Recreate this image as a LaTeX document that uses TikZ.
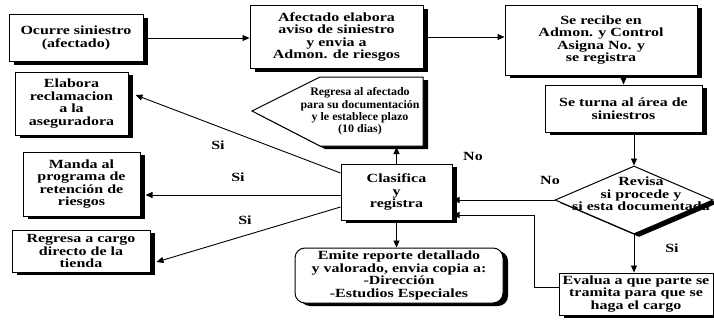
\documentclass[tikz,border=0pt]{standalone}
\usepackage{fontspec}
\setmainfont{Liberation Serif}[FakeStretch=1.28]
\newfontfamily\narrowserif{Liberation Serif}[FakeStretch=1.04]
\usetikzlibrary{arrows.meta,shapes.geometric,shadows}
\begin{document}
\begin{tikzpicture}[x=1pt,y=-1pt,
  txt/.style={font=\fontsize{12.5}{12.5}\selectfont\bfseries, align=center, inner sep=1pt},
  smalltxt/.style={font=\narrowserif\fontsize{11.5}{12.3}\selectfont\bfseries, align=center, inner sep=1pt},
  box/.style={txt, draw, line width=1pt, fill=white,
    drop shadow={shadow xshift=5pt,shadow yshift=-3pt,fill=black,opacity=1}},
  shp/.style={draw, line width=1pt, fill=white,
    drop shadow={shadow xshift=5pt,shadow yshift=-3pt,fill=black,opacity=1}},
  arr/.style={line width=0.9pt, -{Triangle[length=7pt,width=6pt]}},
  lab/.style={txt}]
\useasboundingbox (0,0) rectangle (714,324);

% top row
\node[box, minimum width=134pt, minimum height=47pt] (b1) at (76,38) {Ocurre siniestro\\(afectado)};
\node[box, minimum width=173pt, minimum height=63pt] (b2) at (336.5,37) {Afectado elabora\\aviso de siniestro\\y envia a\\Admon. de riesgos};
\node[box, minimum width=192pt, minimum height=70pt] (b3) at (601,40) {Se recibe en\\Admon. y Control\\Asigna No. y\\se registra};
\node[box, minimum width=157pt, minimum height=47pt] (b4) at (623.5,108.5) {Se turna al área de\\siniestros};

% diamond
\node[shp, diamond, minimum width=158pt, minimum height=68pt, inner sep=0pt] (dia) at (634,200) {};
\node[txt] (diat) at (641,194) {Revisa\\si procede y\\si esta documentada};

% pentagon
\draw[shp] (252,111) -- (320,77) -- (423,77) -- (423,146) -- (320,146) -- cycle;
\node[smalltxt] (pent) at (360,111.5) {Regresa al afectado\\para su documentación\\y le establece plazo\\(10 dias)};
\coordinate (pentb) at (398,147);

% center
\node[box, minimum width=111pt, minimum height=56pt] (clas) at (396.5,192) {Clasifica\\y\\registra};

% left boxes
\node[box, minimum width=113pt, minimum height=63pt] (bA) at (71.5,103.5) {Elabora\\reclamacion\\a la\\aseguradora};
\node[box, minimum width=117pt, minimum height=64pt] (bB) at (81.5,184) {Manda al\\programa de\\retención de\\riesgos};
\node[box, minimum width=138pt, minimum height=42pt] (bC) at (81,251) {Regresa a cargo\\directo de la\\tienda};

% bottom
\node[box, rounded corners=10pt, minimum width=208pt, minimum height=55pt] (bD) at (399,275.5) {Emite reporte detallado\\y valorado, envia copia a:\\-Dirección\\-Estudios Especiales};
\node[box, minimum width=154pt, minimum height=42pt] (bE) at (636,294) {Evalua a que parte se\\tramita para que se\\haga el cargo};

% connectors
\draw[arr] (b1.east) -- (b1.east -| b2.west);
\draw[arr] (b2.east) -- (b2.east -| b3.west);
\draw[arr] (b4.north |- b3.south) -- (b4.north);
\draw[arr] (dia.north |- b4.south) -- (dia.north);
\draw[arr] (dia.west) -- (dia.west -| clas.east);
\draw[arr] (dia.south) -- (dia.south |- bE.north);
\draw[arr] ([yshift=7pt]bE.west) -- ++(-24,0) |- ([yshift=-23pt]clas.east);
\draw[arr] (clas.north) -- (clas.north |- pentb);
\draw[arr] (clas.south) -- (clas.south |- bD.north);
\draw[arr] ([yshift=19pt]clas.west) -- ([xshift=7pt,yshift=8.5pt]bA.east);
\draw[arr] ([yshift=-3pt]clas.west) -- ([xshift=5pt,yshift=-3pt]clas.west -| bB.east);
\draw[arr] ([yshift=-15pt]clas.west) -- ([xshift=6pt,yshift=-11pt]bC.east);

% labels
\node[lab] (l1) at (218,145) {Si};
\node[lab] (l2) at (238,177) {Si};
\node[lab] (l3) at (245,220) {Si};
\node[lab] (l4) at (473,156) {No};
\node[lab] (l5) at (550,180) {No};
\node[lab] (l6) at (672,248) {Si};
\end{tikzpicture}
\end{document}
